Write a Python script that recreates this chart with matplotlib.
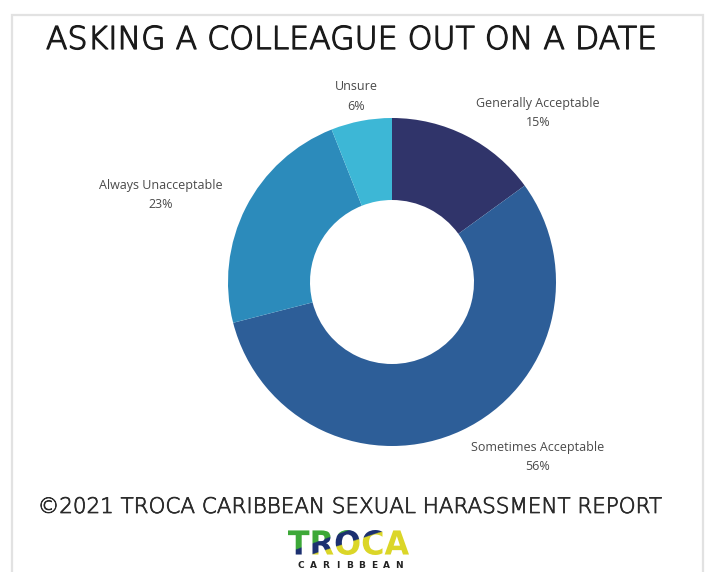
import numpy as np
import matplotlib
matplotlib.use('Agg')
import matplotlib.pyplot as plt
import matplotlib.patheffects as pe
from matplotlib.textpath import TextPath
from matplotlib.font_manager import FontProperties
from matplotlib.patches import PathPatch, Rectangle
from matplotlib.transforms import Affine2D

# Survey responses
categories = ['Generally Acceptable', 'Sometimes Acceptable', 'Always Unacceptable', 'Unsure']
shares = [15, 56, 23, 6]
colors = ['#30346A', '#2D5E98', '#2C8BBB', '#3DB7D6']

title = 'ASKING A COLLEAGUE OUT ON A DATE'
footer = '\u00a92021 TROCA CARIBBEAN SEXUAL HARASSMENT REPORT'

W, H = 705, 572
fig = plt.figure(figsize=(W / 100, H / 100), dpi=100)
fig.patch.set_facecolor('white')

# overlay axes in pixel units (y measured from the top)
bg = fig.add_axes([0, 0, 1, 1])
bg.set_xlim(0, W)
bg.set_ylim(H, 0)
bg.axis('off')

# card outline
bg.add_patch(Rectangle((12, 15), 691, 600, facecolor='white', edgecolor='#e2e2e2',
                       lw=1.6, zorder=0.5))

renderer = fig.canvas.get_renderer()


def fit_text(ax, x, y, s, width_px, **kw):
    t = ax.text(x, y, s, ha='center', va='center', fontsize=10, **kw)
    w = t.get_window_extent(renderer).width
    t.set_fontsize(10 * width_px / w)
    return t


fit_text(bg, 351, 40, title, 607, family='DejaVu Sans', weight='light', color='#1a1a1a',
         path_effects=[pe.withStroke(linewidth=0.9, foreground='#1a1a1a')])
fit_text(bg, 349, 507, footer, 622, family='DejaVu Sans', weight='light', color='#2a2a2a',
         path_effects=[pe.withStroke(linewidth=0.55, foreground='#2a2a2a')])

# donut
cx, cy, r = 392, 282, 164
ax = fig.add_axes([(cx - r) / W, (H - cy - r) / H, 2 * r / W, 2 * r / H])
ax.pie(shares, colors=colors, startangle=90, counterclock=False,
       radius=1, wedgeprops=dict(width=0.5, edgecolor='none'))
ax.set_xlim(-1, 1)
ax.set_ylim(-1, 1)
ax.set_aspect('auto')
ax.axis('off')

# slice labels
label_pos = [(538, 103), (538, 447), (161, 186), (356, 87)]
for name, val, (lx, ly) in zip(categories, shares, label_pos):
    bg.text(lx, ly, name, ha='center', va='center', fontsize=9,
            family='Open Sans', color='#4a4a4a')
    bg.text(lx, ly + 19, f'{val}%', ha='center', va='center', fontsize=9,
            family='Open Sans', color='#4a4a4a')

# logo wordmark with green / navy / yellow bands
x0, x1, y0, y1 = 288, 409, 530, 555
tp = TextPath((0, 0), 'TROCA', size=100,
              prop=FontProperties(family='DejaVu Sans', weight='bold'))
ext = tp.get_extents()
tr = (Affine2D().translate(-ext.x0, -ext.y0)
      .scale((x1 - x0) / ext.width, -(y1 - y0) / ext.height)
      .translate(x0, y1))
logo = PathPatch(tr.transform_path(tp), facecolor='none', edgecolor='none',
                 transform=bg.transData)
bg.add_patch(logo)

nx, ny = 240, 60
u = np.linspace(0, 1, nx)[None, :]
v = np.linspace(1, 0, ny)[:, None]
green = np.array([0.24, 0.66, 0.22])
navy = np.array([0.11, 0.19, 0.44])
yellow = np.array([0.86, 0.84, 0.16])
img = np.empty((ny, nx, 3))
img[:] = yellow
img[np.broadcast_to(v > -0.3 + 1.6 * u, (ny, nx))] = navy
img[np.broadcast_to(v > 0.1 + 1.8 * u, (ny, nx))] = green
im = bg.imshow(img, extent=(x0, x1, y1, y0), aspect='auto',
               interpolation='bilinear', zorder=3)
im.set_clip_path(logo)
bg.set_xlim(0, W)
bg.set_ylim(H, 0)

sub = 'CARIBBEAN'
for i, ch in enumerate(sub):
    bg.text(301 + i * 12.2, 565, ch, ha='center', va='center', fontsize=6.5,
            family='DejaVu Sans', weight='bold', color='#222222')

fig.savefig('out.png', dpi=100, facecolor='white')
